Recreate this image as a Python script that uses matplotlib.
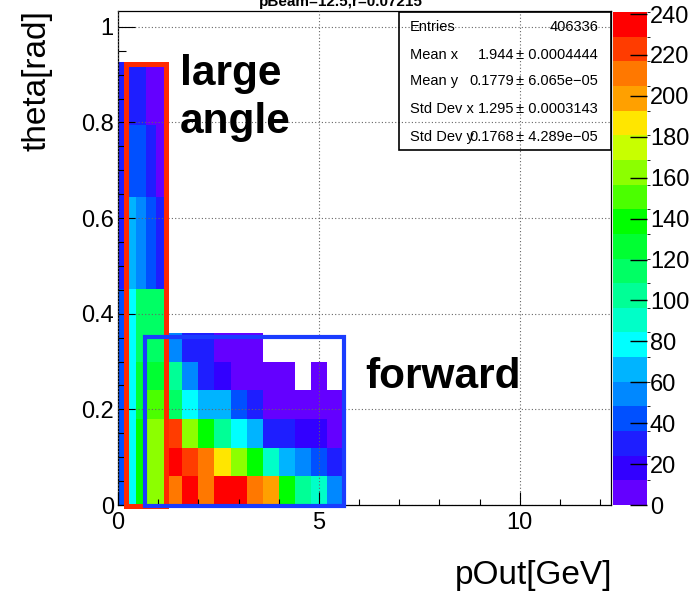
import numpy as np
import matplotlib
matplotlib.use('Agg')
import matplotlib.pyplot as plt
from matplotlib.colors import ListedColormap, BoundaryNorm
from matplotlib.patches import Rectangle
import matplotlib.cm as cm

plt.rcParams['font.family'] = ['Liberation Sans', 'DejaVu Sans']

W, H = 693, 592

# ---------------- data ----------------
palette = ['#6400ff', '#3200ff', '#1e1eff', '#0050ff', '#0088ff', '#00b4ff',
           '#00ffff', '#00ffc8', '#00ff96', '#00ff64', '#00ff32', '#00ff00',
           '#4bff00', '#8cff00', '#c8ff00', '#ffe600', '#ffa000', '#ff7800',
           '#ff3c00', '#ff0000']
z_max = 241
z_ticks = list(range(0, 241, 20))

# large-angle sample: pOut bin edges, cos(theta) bin edges
la_p_edges = [0.0, 0.2, 0.45, 0.7, 0.95, 1.2]
la_cos_edges = [1.0, 0.9, 0.8, 0.7, 0.6]
la_counts = [
    [42, 78, 116, 114, 113],
    [32, 68, 56, 44, 28],
    [30, 44, 42, 30, 10],
    [30, 32, 28, 10, 8],
]

# forward sample
nan = np.nan
fw_p_edges = [0.45, 0.7, 1.2, 1.6, 2.0, 2.4, 2.8, 3.2, 3.6, 4.0, 4.4, 4.8, 5.2, 5.6]
fw_theta_edges = [0.0, 0.06, 0.12, 0.18, 0.24, 0.30, 0.36]
fw_counts = [
    [138, 163, 211, 236, 211, 236, 238, 212, 199, 140, 104, 92, 56],
    [140, 160, 237, 224, 210, 188, 165, 137, 92, 68, 57, 44, 31],
    [137, 161, 225, 166, 140, 103, 79, 66, 30, 29, 20, 19, 8],
    [130, 148, 115, 80, 67, 65, 43, 32, 8, 7, 6, 5, 4],
    [128, 126, 104, 55, 30, 20, 9, 8, 6, 5, nan, 4, nan],
    [116, 112, 54, 31, 29, 9, 7, 6, nan, nan, nan, nan, nan],
]

x_ticks = [0, 5, 10]
x_ticklabels = ['0', '5', '10']
y_ticks = [0, 0.2, 0.4, 0.6, 0.8, 1.0]
y_ticklabels = ['0', '0.2', '0.4', '0.6', '0.8', '1']

stat_names = ['Entries', 'Mean x', 'Mean y', 'Std Dev x', 'Std Dev y']
stat_values = ['', '1.944', '0.1779', '1.295', '0.1768']
stat_errors = ['406336', '\u00b1 0.0004444', '\u00b1 6.065e\u221205',
               '\u00b1 0.0003143', '\u00b1 4.289e\u221205']

title = 'pBeam=12.5,r=0.07215'

# annotation boxes (data coords): x0, y0, x1, y1
red_box = (0.2, -0.003, 1.19, 0.922)
blue_box = (0.67, -0.003, 5.62, 0.351)

# ---------------- figure ----------------
def fx(px):
    return px / W

def fy(py):
    return 1 - py / H

fig = plt.figure(figsize=(W / 100, H / 100), dpi=100)
ax = fig.add_axes([fx(118), fy(505), (611 - 118) / W, (505 - 11) / H])

cmap = ListedColormap(palette)
norm = BoundaryNorm(np.linspace(0, z_max, len(palette) + 1), len(palette))

ax.pcolormesh(la_p_edges, np.arccos(la_cos_edges),
              np.ma.masked_invalid(np.array(la_counts, float)),
              cmap=cmap, norm=norm, zorder=1)
ax.pcolormesh(fw_p_edges, fw_theta_edges,
              np.ma.masked_invalid(np.array(fw_counts, float)),
              cmap=cmap, norm=norm, zorder=1.1)

ax.set_xlim(0, 12.27)
ax.set_ylim(0, 1.033)
ax.set_xticks(x_ticks)
ax.set_xticklabels(x_ticklabels)
ax.set_xticks(np.arange(0, 13, 1), minor=True)
ax.set_yticks(y_ticks)
ax.set_yticklabels(y_ticklabels)
ax.set_yticks(np.arange(0, 1.03, 0.05), minor=True)
ax.tick_params(which='both', direction='in', top=False, right=False, width=0.8)
ax.tick_params(axis='y', which='major', length=12, labelsize=17, pad=3)
ax.tick_params(axis='y', which='minor', length=6)
ax.tick_params(axis='x', which='major', length=9.5, labelsize=17, pad=5)
ax.tick_params(axis='x', which='minor', length=4.5)
for s in ax.spines.values():
    s.set_linewidth(0.9)

ax.set_axisbelow(False)
ax.grid(True, which='major', linestyle=(0, (1, 2)), color='#666666', linewidth=0.8)

for (x0, y0, x1, y1), col, lw in [(red_box, '#ff2a00', 3.6), (blue_box, '#1a3cff', 3.0)]:
    ax.add_patch(Rectangle((x0, y0), x1 - x0, y1 - y0, fill=False, edgecolor=col,
                           linewidth=lw, joinstyle='miter', clip_on=False, zorder=4))

# annotations
fig.text(fx(180), fy(85), 'large', fontsize=30.5, fontweight='bold', va='baseline', ha='left')
fig.text(fx(180), fy(133), 'angle', fontsize=30.5, fontweight='bold', va='baseline', ha='left')
fig.text(fx(365), fy(388), 'forward', fontsize=30.5, fontweight='bold', va='baseline', ha='left')

# axis titles
fig.text(fx(37), fy(10), 'theta[rad]', fontsize=24, rotation=90, ha='center', va='top')
fig.text(fx(612), fy(584), 'pOut[GeV]', fontsize=24, ha='right', va='baseline')

# title (cut at top)
fig.text(fx(341), fy(6), title, fontsize=11, fontweight='bold', ha='center', va='baseline')

# stats box
fig.patches.append(Rectangle((fx(399), fy(150)), (611 - 399) / W, (150 - 12) / H,
                             transform=fig.transFigure, fill=False, edgecolor='black',
                             linewidth=1.2, zorder=5))
rows_y = [27, 55, 81, 109, 137]
for name, val, err, yy in zip(stat_names, stat_values, stat_errors, rows_y):
    fig.text(fx(410), fy(yy), name, fontsize=10.5, ha='left', va='center')
    if val:
        fig.text(fx(514), fy(yy), val, fontsize=10.5, ha='right', va='center')
    fig.text(fx(598), fy(yy), err, fontsize=10.5, ha='right', va='center')

# colorbar
cax = fig.add_axes([fx(613), fy(505), 34 / W, (505 - 12) / H])
sm = cm.ScalarMappable(norm=norm, cmap=cmap)
cb = fig.colorbar(sm, cax=cax, ticks=z_ticks)
cb.outline.set_visible(False)
cax.tick_params(direction='in', length=12, width=1, labelsize=17, pad=2, color='black')
cax.set_yticklabels([str(t) for t in z_ticks])

fig.savefig('out.png', dpi=100)
